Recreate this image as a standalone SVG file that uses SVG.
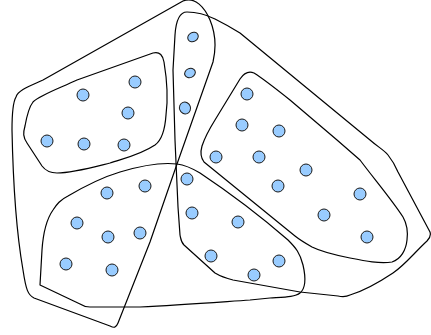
<svg xmlns="http://www.w3.org/2000/svg" width="431" height="335" viewBox="0 0 431 335">
<style>
.h{fill:none;stroke:#000;stroke-width:1.2;stroke-linejoin:round}
.n{fill:#99ccff;stroke:#1a1a1a;stroke-width:1}
</style>
<rect width="431" height="335" fill="#fff"/>
<g id="clusters">
<path id="hull-outer-left" class="h" d="M16,97 C18,90 30,86 43,80 L183,1 C195,-4 205,8 210,20 C215,32 217,45 213,62 L177,164 L150,242 L118,323 C116,328 114,328 110,326 L34,298 C28,295 26,290 23,270 C16,230 13,180 12,130 C12,110 13,102 16,97 Z"/>
<path id="hull-top-left" class="h" d="M33,102 C40,95 60,88 77,80 L153,53 C160,51 163,56 164,62 C167,80 168,100 166,115 C165,130 162,140 155,145 C140,155 125,158 110,163 C90,168 72,173 57,173 C50,173 45,170 42,166 L27,143 C23,137 23,133 25,126 C27,115 29,107 33,102 Z"/>
<path id="hull-bottom" class="h" d="M40,285 L42,250 C43,235 46,220 53,210 C57,204 60,200 68,196 C85,186 100,178 120,172 C140,166 160,162 177,164 C185,165 190,167 200,173 C230,193 265,220 288,240 C296,248 300,253 303,265 C306,278 306,288 300,293 C295,297 285,297 270,298 L250,300 C220,302 180,305 140,307 L90,307 C86,307 83,306 80,304 Z"/>
<path id="hull-outer-right" class="h" d="M173,70 L175,35 C176,20 180,12 187,12 C195,12 205,14 215,19 C225,24 232,28 240,33 L370,140 C378,147 384,150 388,155 C392,160 395,165 398,172 L430,232 C431,235 430,238 427,241 C415,252 405,265 393,273 C378,283 360,292 350,295 C346,297 343,297 338,296 L300,292 L233,280 C225,278 220,276 215,273 L184,245 C181,242 181,240 180,235 L178,207 L175,140 Z"/>
<path id="hull-right" class="h" d="M204,162 C201,158 200,153 202,146 C205,137 210,128 215,120 L240,79 C244,73 249,71 254,73 C262,78 275,88 290,100 L337,140 L360,160 C375,180 392,200 403,217 C407,224 408,232 407,240 C406,250 401,259 392,262 C380,264 365,261 350,258 C335,255 322,252 312,247 C305,243 300,240 295,236 Z"/>
</g>
<g id="connectors"></g>
<g id="nodes">
<g id="n1"><circle class="n" cx="83" cy="95" r="6"/></g>
<g id="n2"><circle class="n" cx="135" cy="82" r="6"/></g>
<g id="n3"><circle class="n" cx="128" cy="113" r="6"/></g>
<g id="n4"><circle class="n" cx="47" cy="141" r="6"/></g>
<g id="n5"><circle class="n" cx="84" cy="144" r="6"/></g>
<g id="n6"><circle class="n" cx="124" cy="145" r="6"/></g>
<g id="n7"><ellipse class="n" cx="193" cy="37" rx="5.5" ry="4.5" transform="rotate(-30 193 37)"/></g>
<g id="n8"><ellipse class="n" cx="190" cy="73" rx="5.5" ry="4.5" transform="rotate(-25 190 73)"/></g>
<g id="n9"><ellipse class="n" cx="185" cy="108" rx="5.5" ry="6" transform="rotate(-20 185 108)"/></g>
<g id="n10"><circle class="n" cx="247" cy="94" r="6"/></g>
<g id="n11"><circle class="n" cx="242" cy="125" r="6"/></g>
<g id="n12"><circle class="n" cx="279" cy="131" r="6"/></g>
<g id="n13"><circle class="n" cx="216" cy="157" r="6"/></g>
<g id="n14"><circle class="n" cx="259" cy="157" r="6"/></g>
<g id="n15"><circle class="n" cx="306" cy="170" r="6"/></g>
<g id="n16"><circle class="n" cx="278" cy="186" r="6"/></g>
<g id="n17"><circle class="n" cx="360" cy="194" r="6"/></g>
<g id="n18"><circle class="n" cx="324" cy="215" r="6"/></g>
<g id="n19"><circle class="n" cx="367" cy="237" r="6"/></g>
<g id="n20"><circle class="n" cx="187" cy="179" r="6"/></g>
<g id="n21"><circle class="n" cx="192" cy="213" r="6"/></g>
<g id="n22"><circle class="n" cx="238" cy="222" r="6"/></g>
<g id="n23"><circle class="n" cx="211" cy="256" r="6"/></g>
<g id="n24"><circle class="n" cx="254" cy="275" r="6"/></g>
<g id="n25"><circle class="n" cx="279" cy="261" r="6"/></g>
<g id="n26"><circle class="n" cx="107" cy="193" r="6"/></g>
<g id="n27"><circle class="n" cx="145" cy="186" r="6"/></g>
<g id="n28"><circle class="n" cx="77" cy="223" r="6"/></g>
<g id="n29"><circle class="n" cx="108" cy="237" r="6"/></g>
<g id="n30"><circle class="n" cx="140" cy="233" r="6"/></g>
<g id="n31"><circle class="n" cx="66" cy="264" r="6"/></g>
<g id="n32"><circle class="n" cx="112" cy="270" r="6"/></g>
</g>
</svg>
